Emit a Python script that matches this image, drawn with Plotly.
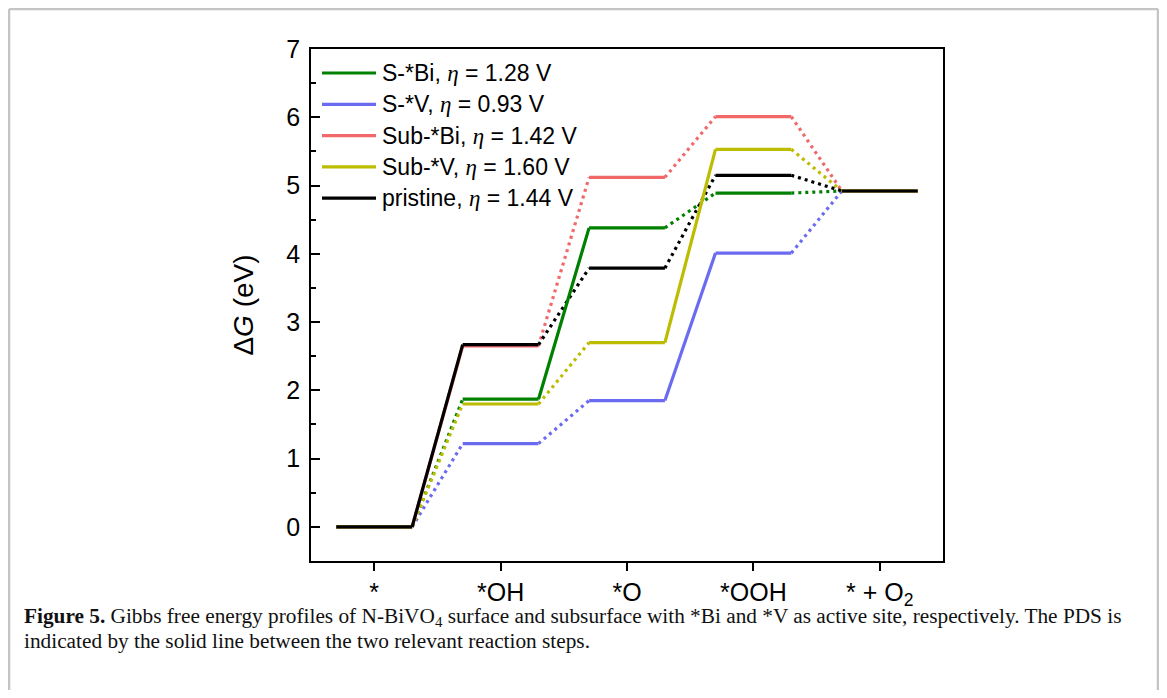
import plotly.graph_objects as go

# ---------------- data ----------------
categories = ["*", "*OH", "*O", "*OOH", "* + O<sub>2</sub>"]
series_names = ["S-*Bi", "S-*V", "Sub-*Bi", "Sub-*V", "pristine"]
eta_values = [1.28, 0.93, 1.42, 1.60, 1.44]
s_bi = [0.00, 1.87, 4.38, 4.89, 4.92]
s_v = [0.00, 1.22, 1.85, 4.01, 4.92]
sub_bi = [0.00, 2.65, 5.12, 6.01, 4.92]
sub_v = [0.00, 1.80, 2.70, 5.53, 4.92]
pristine = [0.00, 2.67, 3.79, 5.15, 4.92]
series_values = [s_bi, s_v, sub_bi, sub_v, pristine]

# ---------------- style ----------------
colors = ["#008000", "#6b6bf2", "#f06868", "#bcbc00", "#000000"]
HALF = 0.3          # half width of each energy level (in category units)
LW = 3.2
W, H = 1167, 698    # window size
OFF = 8             # default page body margin
FW, FH = W - 2 * OFF, H - 2 * OFF
L, R, T, B = 311, 943, 49, 561   # plot area in window pixels
AXFONT = "Liberation Sans, Arial, sans-serif"
SERIF = "Liberation Serif, Times New Roman, serif"


def px(xp):
    return (xp - L) / (R - L)


def py(yp):
    return (B - yp) / (B - T)


fig = go.Figure()

dotted_traces, solid_traces = [], []
for name, vals, col in zip(series_names, series_values, colors):
    steps = [vals[i + 1] - vals[i] for i in range(len(vals) - 1)]
    pds = max(range(len(steps)), key=lambda i: steps[i])
    lx, ly = [], []
    for i, v in enumerate(vals):
        lx += [i - HALF, i + HALF, None]
        ly += [v, v, None]
    dx, dy = [], []
    sx, sy = [], []
    for i in range(len(vals) - 1):
        seg_x = [i + HALF, i + 1 - HALF, None]
        seg_y = [vals[i], vals[i + 1], None]
        if i == pds:
            sx += seg_x
            sy += seg_y
        else:
            dx += seg_x
            dy += seg_y
    dotted_traces.append(go.Scatter(x=dx, y=dy, mode="lines", showlegend=False,
                                    line=dict(color=col, width=LW, dash="3px,4px"),
                                    hoverinfo="skip"))
    solid_traces.append(go.Scatter(x=sx + lx, y=sy + ly, mode="lines", name=name,
                                   showlegend=False,
                                   line=dict(color=col, width=LW)))

for tr in dotted_traces + solid_traces:
    fig.add_trace(tr)

# ---------------- manual legend ----------------
shapes = []
annotations = []
row0, row_gap = 73, 31.3
for k, (name, eta, col) in enumerate(zip(series_names, eta_values, colors)):
    yrow = row0 + k * row_gap
    shapes.append(dict(type="line", xref="paper", yref="paper",
                       x0=px(322), x1=px(376), y0=py(yrow), y1=py(yrow),
                       line=dict(color=col, width=LW)))
    annotations.append(dict(
        xref="paper", yref="paper", x=px(380), y=py(yrow),
        xanchor="left", yanchor="middle", showarrow=False,
        text=f"{name}, <span style=\"font-family:{SERIF}\"><i>η</i></span> = {eta:.2f} V",
        font=dict(family=AXFONT, size=23, color="#000000")))

# ---------------- frame (four edges) & caption ----------------
FRAME_L, FRAME_R, FRAME_T, FRAME_B = 9, 1158, 9, 730
frame_style = dict(color="#c4c4c4", width=2.5)
for (xa, ya, xb, yb) in [(FRAME_L, FRAME_T, FRAME_R, FRAME_T),
                         (FRAME_L, FRAME_T, FRAME_L, FRAME_B),
                         (FRAME_R, FRAME_T, FRAME_R, FRAME_B)]:
    shapes.append(dict(type="line", xref="paper", yref="paper",
                       x0=px(xa), x1=px(xb), y0=py(ya), y1=py(yb),
                       line=frame_style, layer="below"))

caption1 = ("<b>Figure 5.</b> Gibbs free energy profiles of N-BiVO<sub>4</sub> surface and "
            "subsurface with *Bi and *V as active site, respectively. The PDS is")
caption2 = "indicated by the solid line between the two relevant reaction steps."
for txt, yline in [(caption1, 617), (caption2, 641)]:
    annotations.append(dict(xref="paper", yref="paper", x=px(22), y=py(yline),
                            xanchor="left", yanchor="middle", showarrow=False,
                            text=txt, font=dict(family=SERIF, size=21.3, color="#111111")))

fig.update_layout(
    width=FW, height=FH,
    margin=dict(l=L - OFF, r=(W - OFF) - R, t=T - OFF, b=(H - OFF) - B, pad=0),
    paper_bgcolor="white", plot_bgcolor="white",
    showlegend=False,
    shapes=shapes, annotations=annotations,
    xaxis=dict(range=[-0.5, 4.5], tickvals=list(range(len(categories))),
               ticktext=categories, showgrid=False, zeroline=False,
               showline=True, linecolor="black", linewidth=1.8, mirror=True,
               ticks="outside", ticklen=8, tickwidth=1.8, tickcolor="black",
               tickfont=dict(family=AXFONT, size=25, color="black")),
    yaxis=dict(range=[-0.5, 7], dtick=1, tick0=0, showgrid=False, zeroline=False,
               showline=True, linecolor="black", linewidth=1.8, mirror=True,
               ticks="inside", ticklen=9, tickwidth=1.8, tickcolor="black",
               minor=dict(dtick=0.5, ticks="inside", ticklen=5, tickwidth=1.5,
                          tickcolor="black", showgrid=False),
               ticklabelstandoff=4,
               tickfont=dict(family=AXFONT, size=25, color="black"),
               title=dict(text="Δ<i>G</i> (eV)", standoff=24,
                          font=dict(family=AXFONT, size=28, color="black"))),
)

fig.write_html("out.html")
